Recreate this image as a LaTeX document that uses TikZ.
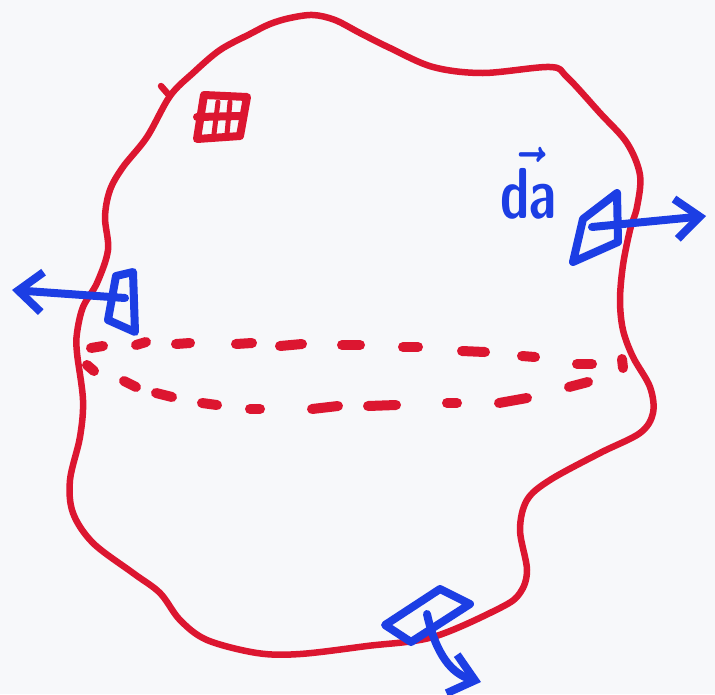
\documentclass[tikz,border=0pt]{standalone}
\usetikzlibrary{arrows.meta}
\definecolor{mred}{RGB}{220,22,48}
\definecolor{mblue}{RGB}{28,62,228}
\definecolor{paper}{RGB}{247,248,250}
\begin{document}
\begin{tikzpicture}[x=1pt,y=-1pt,
  outline/.style={draw=mred,line width=6.5pt,line cap=round,line join=round},
  dsh/.style={draw=mred,line width=10pt,line cap=round},
  vol/.style={draw=mred,line width=8pt,line cap=round,line join=round},
  patch/.style={draw=mblue,line width=8pt,line cap=round,line join=round},
  nrm/.style={draw=mblue,line width=8pt,line cap=round,
    -{Straight Barb[length=24pt,width=40pt]}},
  lbl/.style={text=mblue,inner sep=0pt,font=\Huge\boldmath,
    xscale=2.1,yscale=2.9,transform shape}]
\fill[paper] (0,0) rectangle (715,694);
\useasboundingbox (0,0) rectangle (715,694);
% closed surface
\draw[outline] plot[smooth cycle,tension=0.55] coordinates {
 (170,96) (193,73) (220,50) (250,34) (270,24) (290,18) (313,15) (335,20)
 (360,33) (390,48) (433,67) (483,73) (550,67) (567,77) (600,113) (627,143)
 (640,175) (637,207) (630,230) (623,265) (620,300) (623,330) (633,357) (650,387)
 (653,413) (640,433) (600,453) (550,480) (527,500) (520,530) (527,570) (520,593)
 (500,608) (433,637) (367,646) (300,654) (257,653) (207,640) (180,620) (160,593)
 (133,573) (93,543) (73,513) (70,480) (80,437) (83,400) (77,353) (77,333)
 (83,307) (97,283) (108,250) (105,217) (110,190) (123,167) (147,137)};
\coordinate (hookA) at (168,94);
\coordinate (hookB) at (161,86);
\draw[outline] (hookA) -- (hookB);
% equator, back (upper dashed)
\foreach \pa/\pb/\pc/\pd in {91/348/103/346, 136/345/146/342, 176/344/190/343,
  236/344/252/343, 280/346/302/344, 342/345/360/345, 403/347/418/347,
  462/351/485/352, 522/356/535/357, 577/364/592/364, 622/359/623/368}
  {\draw[dsh] (\pa,\pb) -- (\pc,\pd);}
% equator, front (lower dashed)
\foreach \pa/\pb/\pc/\pd in {87/365/94/371, 124/381/136/387, 156/393/172/397,
  202/403/217/405, 250/409/260/409, 312/409/338/406, 368/406/396/405,
  447/403/457/403, 499/403/527/398, 569/387/588/382}
  {\draw[dsh] (\pa,\pb) -- (\pc,\pd);}
% volume element
\draw[vol] (204,95) -- (247,97) -- (240,136) -- (197,139) -- cycle;
\draw[vol] (197,117) -- (243,116);
\draw[vol,line width=5pt] (218,102) -- (214,134) (230,102) -- (227,134);
% right patch and normal
\draw[patch] (583,219) -- (617,193) -- (618,242) -- (573,262) -- cycle;
\coordinate (rstart) at (592,227);
\coordinate (rtip) at (706,216);
\draw[nrm] (rstart) -- (rtip);
% left patch and normal
\draw[patch] (116,276) -- (133,272) -- (135,332) -- (108,320) -- cycle;
\coordinate (lstart) at (125,298);
\coordinate (ltip) at (12,290);
\draw[nrm] (lstart) -- (ltip);
% bottom patch and normal
\draw[patch] (385,625) -- (440,589) -- (470,604) -- (411,642) -- cycle;
\coordinate (bstart) at (427,614);
\coordinate (btip) at (481,682);
\draw[nrm] (bstart) .. controls (436,655) and (452,674) .. (btip);
% label
\node[lbl,anchor=base] (dalabel) at (529,218) {$\vec{\mathsf{da}}$};
\end{tikzpicture}
\end{document}
